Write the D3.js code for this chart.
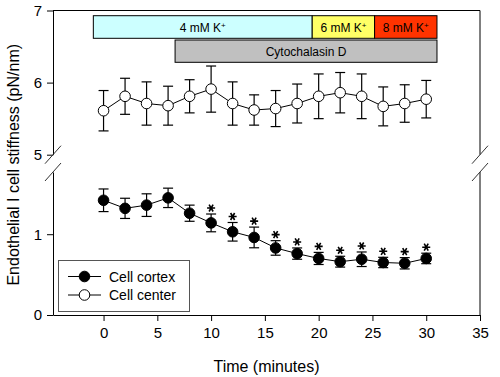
<!DOCTYPE html>
<html>
<head>
<meta charset="utf-8">
<script src="https://cdn.jsdelivr.net/npm/d3@7"></script>
<style>
  body { margin: 0; background: #fff; }
  svg text { font-family: "Liberation Sans", Arial, sans-serif; }
</style>
</head>
<body>
<div id="chart"></div>
<script>
// time points (minutes)
const times = [0, 2, 4, 6, 8, 10, 12, 14, 16, 18, 20, 22, 24, 26, 28, 30];
// cell center (upper panel)
const centerMean = [5.61, 5.81, 5.71, 5.68, 5.81, 5.91, 5.71, 5.62, 5.64, 5.71, 5.81, 5.86, 5.81, 5.67, 5.71, 5.77];
const centerErr  = [0.28, 0.25, 0.30, 0.27, 0.23, 0.32, 0.30, 0.21, 0.25, 0.27, 0.31, 0.28, 0.31, 0.27, 0.26, 0.26];
// cell cortex (lower panel)
const cortexMean = [1.42, 1.32, 1.36, 1.45, 1.26, 1.14, 1.03, 0.96, 0.83, 0.76, 0.70, 0.66, 0.69, 0.65, 0.64, 0.70];
const cortexErr  = [0.14, 0.125, 0.14, 0.12, 0.10, 0.11, 0.115, 0.128, 0.09, 0.07, 0.075, 0.067, 0.09, 0.064, 0.07, 0.065];
const cortexSig  = [false, false, false, false, false, true, true, true, true, true, true, true, true, true, true, true];

const xTicks = [0, 5, 10, 15, 20, 25, 30, 35];
const yTicksUpper = [5, 6, 7];
const yTicksLower = [0, 1];

// treatment bars: [start, end] in minutes
const potassiumBars = [
  {label: "4 mM K", start: -0.95, end: 19.4, color: "#ccffff"},
  {label: "6 mM K", start: 19.4, end: 25.2, color: "#ffff66"},
  {label: "8 mM K", start: 25.2, end: 31.0, color: "#ff3300"}
];
const drugBar = {label: "Cytochalasin D", start: 6.65, end: 31.0, color: "#c0c0c0"};

const width = 500, height = 377;
const pLeft = 53, pRight = 480, pTop = 10.5, pBottom = 315;
const breakTop = 154.7, breakBottom = 172;

const svg = d3.select("#chart").append("svg")
  .attr("width", width)
  .attr("height", height);

const x = d3.scaleLinear().domain([-4.7, 35]).range([pLeft, pRight]);
const yUp = d3.scaleLinear().domain([5, 7]).range([breakTop, pTop]);
const yLow = d3.scaleLinear().domain([0, 1.77]).range([pBottom, breakBottom]);

// frame: top and right edges
svg.append("line")
  .attr("x1", pLeft).attr("x2", pRight).attr("y1", pTop).attr("y2", pTop)
  .attr("stroke", "#000").attr("stroke-width", 1);
svg.append("line")
  .attr("x1", pRight).attr("x2", pRight).attr("y1", pTop).attr("y2", breakTop)
  .attr("stroke", "#000").attr("stroke-width", 1);
svg.append("line")
  .attr("x1", pRight).attr("x2", pRight).attr("y1", breakBottom).attr("y2", pBottom)
  .attr("stroke", "#000").attr("stroke-width", 1);

// axes
const fmt = d3.format("d");
const axUp = svg.append("g")
  .attr("transform", `translate(${pLeft},0)`)
  .call(d3.axisLeft(yUp).tickValues(yTicksUpper).tickFormat(fmt).tickSize(6).tickSizeOuter(0).tickPadding(5));
const axLow = svg.append("g")
  .attr("transform", `translate(${pLeft},0)`)
  .call(d3.axisLeft(yLow).tickValues(yTicksLower).tickFormat(fmt).tickSize(6).tickSizeOuter(0).tickPadding(5));
const axX = svg.append("g")
  .attr("transform", `translate(0,${pBottom})`)
  .call(d3.axisBottom(x).tickValues(xTicks).tickFormat(fmt).tickSize(6).tickSizeOuter(0).tickPadding(6));

[axUp, axLow, axX].forEach(g => {
  g.selectAll("text").attr("font-size", 15).attr("fill", "#000")
    .attr("font-family", "Liberation Sans, Arial, sans-serif");
  g.selectAll("line,path").attr("stroke", "#000");
});

// break marks
[pLeft, pRight].forEach(bx => {
  [breakTop, breakBottom].forEach(by => {
    svg.append("line")
      .attr("x1", bx - 8).attr("y1", by + 9)
      .attr("x2", bx + 8).attr("y2", by - 9)
      .attr("stroke", "#333").attr("stroke-width", 1);
  });
});

// axis titles
svg.append("text")
  .attr("x", (pLeft + pRight) / 2).attr("y", 372)
  .attr("text-anchor", "middle").attr("font-size", 16).attr("fill", "#000")
  .text("Time (minutes)");
svg.append("text")
  .attr("transform", `translate(19,${(pTop + pBottom) / 2 + 2}) rotate(-90)`)
  .attr("text-anchor", "middle").attr("font-size", 16).attr("fill", "#000")
  .text("Endothelial I cell stiffness (pN/nm)");

// treatment bars
const barY0 = 15.7, barH = 22.6, drugY0 = 40, drugH = 22.3;
const kb = svg.append("g");
kb.selectAll("rect").data(potassiumBars).enter().append("rect")
  .attr("x", d => x(d.start)).attr("y", barY0)
  .attr("width", d => x(d.end) - x(d.start)).attr("height", barH)
  .attr("fill", d => d.color).attr("stroke", "#000").attr("stroke-width", 1);
const kt = kb.selectAll("text").data(potassiumBars).enter().append("text")
  .attr("x", d => (x(d.start) + x(d.end)) / 2).attr("y", barY0 + barH / 2 + 4.5)
  .attr("text-anchor", "middle").attr("font-size", 12).attr("fill", "#000");
kt.append("tspan").text(d => d.label);
kt.append("tspan").attr("font-size", 8).attr("dy", -4).text("+");

svg.append("rect")
  .attr("x", x(drugBar.start)).attr("y", drugY0)
  .attr("width", x(drugBar.end) - x(drugBar.start)).attr("height", drugH)
  .attr("fill", drugBar.color).attr("stroke", "#000").attr("stroke-width", 1);
svg.append("text")
  .attr("x", (x(drugBar.start) + x(drugBar.end)) / 2).attr("y", drugY0 + drugH / 2 + 4.5)
  .attr("text-anchor", "middle").attr("font-size", 12).attr("fill", "#000")
  .text(drugBar.label);

// series drawing
function drawSeries(mean, err, y, fill) {
  const pts = times.map((t, i) => ({t, m: mean[i], e: err[i]}));
  const g = svg.append("g");
  g.append("path")
    .datum(pts)
    .attr("d", d3.line().x(d => x(d.t)).y(d => y(d.m)))
    .attr("fill", "none").attr("stroke", "#000").attr("stroke-width", 1);
  const eb = g.selectAll("g.eb").data(pts).enter().append("g").attr("class", "eb");
  eb.append("line")
    .attr("x1", d => x(d.t)).attr("x2", d => x(d.t))
    .attr("y1", d => y(d.m - d.e)).attr("y2", d => y(d.m + d.e))
    .attr("stroke", "#000").attr("stroke-width", 1.2);
  [1, -1].forEach(s => {
    eb.append("line")
      .attr("x1", d => x(d.t) - 5).attr("x2", d => x(d.t) + 5)
      .attr("y1", d => y(d.m + s * d.e)).attr("y2", d => y(d.m + s * d.e))
      .attr("stroke", "#000").attr("stroke-width", 1.2);
  });
  g.selectAll("circle").data(pts).enter().append("circle")
    .attr("cx", d => x(d.t)).attr("cy", d => y(d.m)).attr("r", 5.3)
    .attr("fill", fill).attr("stroke", "#000").attr("stroke-width", 1);
  return pts;
}

drawSeries(centerMean, centerErr, yUp, "#fff");
const cortexPts = drawSeries(cortexMean, cortexErr, yLow, "#000");

// significance stars
const star = d3.symbol().type(d3.symbolAsterisk).size(45);
svg.selectAll("path.star").data(cortexPts.filter((d, i) => cortexSig[i])).enter()
  .append("path").attr("class", "star")
  .attr("transform", d => `translate(${x(d.t)},${yLow(d.m + d.e) - 6}) rotate(90)`)
  .attr("d", star)
  .attr("fill", "none").attr("stroke", "#000").attr("stroke-width", 1.6);

// legend
const lg = svg.append("g");
lg.append("rect")
  .attr("x", 58.5).attr("y", 260.5).attr("width", 131).attr("height", 51)
  .attr("fill", "#fff").attr("stroke", "#555").attr("stroke-width", 1);
const legendItems = [
  {label: "Cell cortex", fill: "#000"},
  {label: "Cell center", fill: "#fff"}
];
legendItems.forEach((d, i) => {
  const ly = 276.5 + i * 18.5;
  lg.append("line").attr("x1", 68).attr("x2", 101).attr("y1", ly).attr("y2", ly)
    .attr("stroke", "#000").attr("stroke-width", 1);
  lg.append("circle").attr("cx", 84.5).attr("cy", ly).attr("r", 5.3)
    .attr("fill", d.fill).attr("stroke", "#000");
  lg.append("text").attr("x", 109).attr("y", ly + 5)
    .attr("font-size", 14).attr("fill", "#000").text(d.label);
});
</script>
</body>
</html>
